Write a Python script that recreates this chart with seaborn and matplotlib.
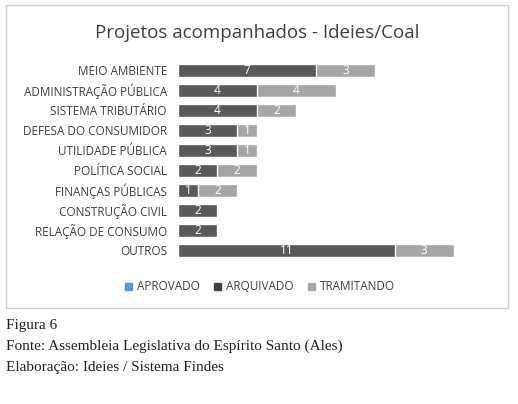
import matplotlib
matplotlib.use("Agg")
import matplotlib.pyplot as plt
import seaborn as sns
import pandas as pd
from matplotlib.patches import Rectangle, Patch

categories = ["MEIO AMBIENTE", "ADMINISTRAÇÃO PÚBLICA", "SISTEMA TRIBUTÁRIO", "DEFESA DO CONSUMIDOR",
              "UTILIDADE PÚBLICA", "POLÍTICA SOCIAL", "FINANÇAS PÚBLICAS", "CONSTRUÇÃO CIVIL",
              "RELAÇÃO DE CONSUMO", "OUTROS"]
aprovado = [0, 0, 0, 0, 0, 0, 0, 0, 0, 0]
arquivado = [7, 4, 4, 3, 3, 2, 1, 2, 2, 11]
tramitando = [3, 4, 2, 1, 1, 2, 2, 0, 0, 3]

sns.set_style("white")
plt.rcParams['font.family'] = ['Open Sans', 'DejaVu Sans']
W, H = 518, 404
fig = plt.figure(figsize=(W/100, H/100), dpi=100)
fig.patches.append(Rectangle((6/W, 1-308/H), 502/W, 303/H, transform=fig.transFigure,
                             fill=False, edgecolor="#d0d0d0", lw=1))
ax = fig.add_axes([178/W, 1-260/H, 315/W, 200/H])
df = pd.DataFrame({"cat": categories, "arq": arquivado, "tram": tramitando,
                   "total": [a + t for a, t in zip(arquivado, tramitando)]})
sns.barplot(data=df, y="cat", x="total", color="#a6a6a6", width=0.65, ax=ax, saturation=1)
sns.barplot(data=df, y="cat", x="arq", color="#595959", width=0.65, ax=ax, saturation=1)
ax.set_xlim(0, 16)
for i, (a, t) in enumerate(zip(arquivado, tramitando)):
    if a:
        ax.text(a/2, i, str(a), ha="center", va="center", color="white", fontsize=8.5)
    if t:
        ax.text(a + t/2, i, str(t), ha="center", va="center", color="white", fontsize=8.5)
ax.set_xlabel(""); ax.set_ylabel("")
ax.set_xticks([])
ax.tick_params(axis="y", length=0, labelsize=8.5, labelcolor="#404040", pad=8)
for s in ax.spines.values():
    s.set_visible(False)
fig.text(257/W, 1-33/H, "Projetos acompanhados - Ideies/Coal", ha="center", va="center",
         fontsize=13.5, color="#404040")
handles = [Patch(color="#5b9bd5"), Patch(color="#404040"), Patch(color="#a6a6a6")]
fig.legend(handles, ["APROVADO", "ARQUIVADO", "TRAMITANDO"], loc="center",
           bbox_to_anchor=(260/W, 1-287/H), ncol=3, frameon=False, fontsize=8.5,
           handlelength=0.6, handleheight=0.6, columnspacing=1.2, handletextpad=0.4,
           labelcolor="#404040")
for y, t in [(326, "Figura 6"), (346, "Fonte: Assembleia Legislativa do Espírito Santo (Ales)"),
             (368, "Elaboração: Ideies / Sistema Findes")]:
    fig.text(6/W, 1-y/H, t, ha="left", va="center", fontsize=11,
             family=["Liberation Serif", "DejaVu Serif"], color="#222222")
fig.savefig("out.png", dpi=100)
